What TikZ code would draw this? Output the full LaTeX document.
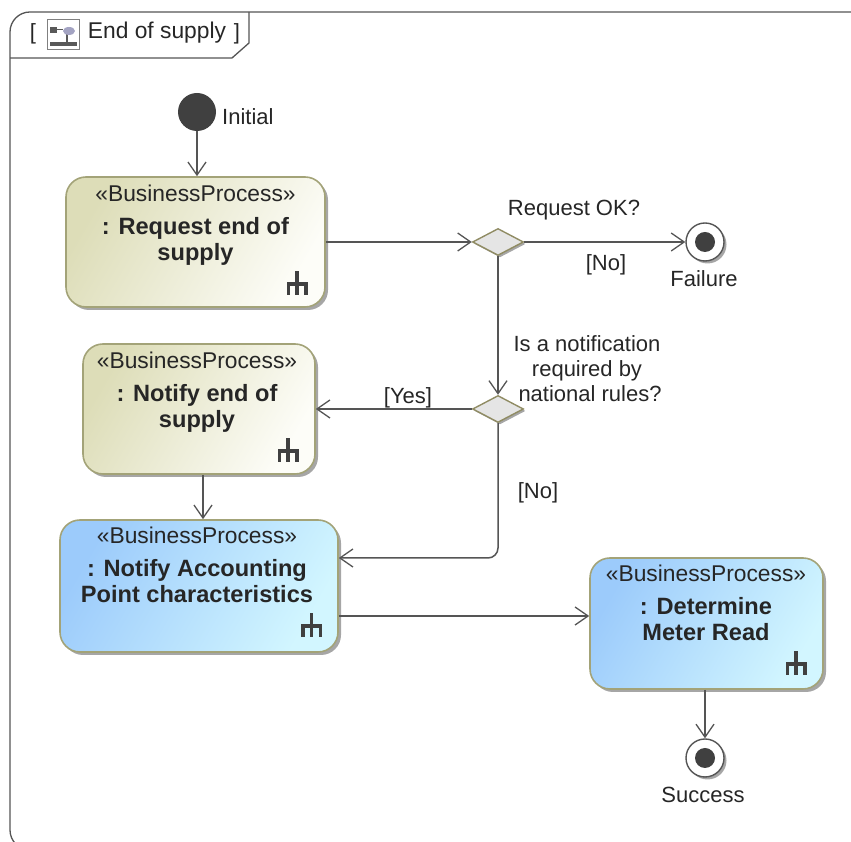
\documentclass[tikz,border=0pt]{standalone}
\usepackage{fontspec}
\setmainfont{Liberation Sans}
\usetikzlibrary{arrows.meta,shadows,shapes.geometric}

\definecolor{linegray}{HTML}{555555}
\definecolor{edgeolive}{HTML}{A3A378}
\definecolor{olivedark}{HTML}{DDDDB8}
\definecolor{olivelight}{HTML}{FDFDF8}
\definecolor{bluedark}{HTML}{9CCBFB}
\definecolor{bluelight}{HTML}{D2F6FF}

\newcommand{\boldname}[1]{{\fontsize{23.6}{26}\selectfont\textbf{#1}}}

\tikzset{
	rake/.pic={
		\fill[black!75] (-1.8,-12) rectangle (1.8,12);
		\fill[black!75] (-10.5,-3) rectangle (10.5,1);
		\fill[black!75] (-10.5,-12) rectangle (-7,1);
		\fill[black!75] (7,-12) rectangle (10.5,1);
	}
}

\begin{document}
\begin{tikzpicture}[
		x=1pt,y=1pt,
		every node/.style={font=\fontsize{22}{25}\selectfont,text=black!85},
		flow/.style={draw=linegray,line width=1.5pt,-{Straight Barb[length=13pt,width=18pt,line width=1.3pt]}},
		shade box/.style={rectangle,rounded corners=20pt,draw=edgeolive,line width=1.6pt,
			drop shadow={shadow xshift=3pt,shadow yshift=-3pt,fill=black!35,opacity=1}},
		oldbox/.style={shade box,left color=olivedark,right color=olivelight,shading angle=60},
		newbox/.style={shade box,left color=bluedark,right color=bluelight,shading angle=60},
		boxtext/.style={anchor=north,align=center,inner sep=0pt,font=\fontsize{22.8}{26}\selectfont},
		decision/.style={diamond,aspect=2,inner sep=0pt,minimum width=51pt,minimum height=27pt,draw=gray!70!olive,
			line width=1.4pt,fill=black!10,drop shadow={shadow xshift=2pt,shadow yshift=-2pt,fill=black!35,opacity=1}},
		finalnode/.style={circle,minimum size=38pt,inner sep=0pt,draw=linegray,line width=1.4pt,fill=white,
			drop shadow={shadow xshift=2.5pt,shadow yshift=-2.5pt,fill=black!35,opacity=1}},
		dot/.style={circle,minimum size=20pt,inner sep=0pt,fill=black!75}
		]
		\useasboundingbox (0,0) rectangle (851,842);
		
		\draw[linegray,line width=1.3pt] (851,830) -- (30,830) arc (90:180:20) -- (10,12) arc (180:270:20);
		\draw[linegray,line width=1.3pt] (10,784) -- (232,784) -- (249,799) -- (249,830);
		\node (framebracketl) at (33,808) {[};
		\node[font=\fontsize{22.8}{26}\selectfont] (frametitle) at (157,809) {End of supply};
		\node (framebracketr) at (237,808) {]};
		\node[draw=gray,fill=white,line width=1pt,minimum width=32pt,minimum height=30pt,inner sep=0pt] (frameicon) at (63,807) {};
		\fill[black!65] (50,809) rectangle (57,815);
		\fill[black!65] (50,796) rectangle (77,800);
		\fill[black!65] (66,800) rectangle (68,809);
		\draw[black!65,line width=1pt] (57,812) -- (63,812);
		\fill[blue!20!gray!60] (69,811) ellipse (6 and 4);
		
		\node[circle,minimum size=38pt,inner sep=0pt,fill=black!75] (init) at (197,730) {};
		\node[anchor=west,inner sep=0pt] (initlabel) at (222,725) {Initial};
		
		\node[oldbox,minimum width=259pt,minimum height=130pt] (req) at (195.5,600) {};
		\node[boxtext] (reqtext) at (195.5,657) {«BusinessProcess»\\[7pt]\boldname{: Request end of}\\\boldname{supply}};
		\pic at (297,559) {rake};
		
		\node[oldbox,minimum width=232pt,minimum height=130pt] (notify) at (199,433) {};
		\node[boxtext] (notifytext) at (197,490) {«BusinessProcess»\\[7pt]\boldname{: Notify end of}\\\boldname{supply}};
		\pic at (288,392) {rake};
		
		\node[newbox,minimum width=278pt,minimum height=132pt] (account) at (199,256) {};
		\node[boxtext] (accounttext) at (197,315) {«BusinessProcess»\\[7pt]\boldname{: Notify Accounting}\\\boldname{Point characteristics}};
		\pic at (311.5,217) {rake};
		
		\node[newbox,minimum width=233pt,minimum height=131pt] (meter) at (706.5,218.5) {};
		\node[boxtext] (metertext) at (706,277) {«BusinessProcess»\\[7pt]\boldname{: Determine}\\\boldname{Meter Read}};
		\pic at (796,179) {rake};
		
		\node[decision] (check) at (498,600) {};
		\node[decision] (rules) at (498,433) {};
		\node (checklabel) at (574,632) {Request OK?};
		\node[align=center,inner sep=0pt] (ruleslabel) at (587,473) {Is a notification\\required by\\\ national rules?};
		
		\node[finalnode] (failure) at (705,600) {};
		\node[dot] (failuredot) at (705,600) {};
		\node (failurelabel) at (704,563) {Failure};
		\node[finalnode] (success) at (705,84) {};
		\node[dot] (successdot) at (705,84) {};
		\node (successlabel) at (703,47) {Success};
		
		\node (nolabelone) at (606,577) {[No]};
		\node (yeslabel) at (408,444) {[Yes]};
		\node (nolabeltwo) at (538,349) {[No]};
		
		\draw[flow] (init) -- (init |- req.north);
		\draw[flow] (req.east) -- (check.west);
		\draw[flow] (check.east) -- (failure.west);
		\draw[flow] (check.south) -- (rules.north);
		\draw[flow] (rules.west) -- (notify.east);
		\draw[flow] ([xshift=4pt]notify.south) -- ([xshift=4pt]account.north);
		\draw[flow,rounded corners=10pt] (rules.south) |- ([yshift=28pt]account.east);
		\draw[flow] ([yshift=-30pt]account.east) -- ([yshift=-30pt]account.east -| meter.west);
		\draw[flow] (meter.south -| success) -- (success.north);
		\end{tikzpicture}
\end{document}
